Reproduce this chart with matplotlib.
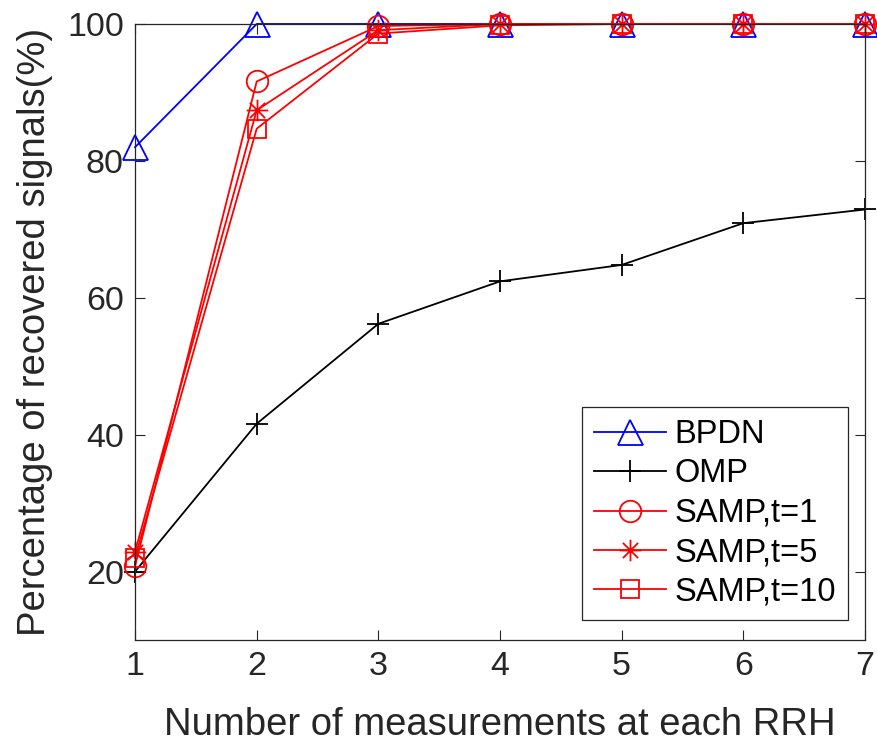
import matplotlib
matplotlib.use("Agg")
import matplotlib.pyplot as plt
from matplotlib.path import Path
import numpy as np

x = [1, 2, 3, 4, 5, 6, 7]
bpdn = [82.0, 100, 100, 100, 100, 100, 100]
omp = [20.0, 41.6, 56.2, 62.4, 64.8, 70.9, 72.9]
samp_t1 = [20.8, 91.6, 99.7, 100, 100, 100, 100]
samp_t5 = [22.9, 87.4, 99.1, 100, 100, 100, 100]
samp_t10 = [22.0, 84.7, 98.6, 99.8, 100, 100, 100]

xticks = [1, 2, 3, 4, 5, 6, 7]
yticks = [20, 40, 60, 80, 100]

plt.rcParams['font.family'] = ['Liberation Sans', 'DejaVu Sans']

# MATLAB-like asterisk marker (plus + cross)
d = 0.7071
verts = [(0, -1), (0, 1), (-1, 0), (1, 0), (-d, -d), (d, d), (-d, d), (d, -d)]
codes = [Path.MOVETO, Path.LINETO] * 4
asterisk = Path(verts, codes)

fig = plt.figure(figsize=(8.78, 7.47), dpi=100)
ax = fig.add_axes([0.1538, 0.1432, 0.8314, 0.8247])

lw = 1.3
common = dict(linewidth=lw, markeredgewidth=lw, markerfacecolor='none', clip_on=False)
ax.plot(x, bpdn, color='#0000ff', marker='^', markersize=18, label='BPDN', **common)
ax.plot(x, omp, color='#000000', marker='+', markersize=16, label='OMP', **common)
ax.plot(x, samp_t1, color='#ff0000', marker='o', markersize=15.5, label='SAMP,t=1', **common)
ax.plot(x, samp_t5, color='#ff0000', marker=asterisk, markersize=15.5, label='SAMP,t=5', **common)
ax.plot(x, samp_t10, color='#ff0000', marker='s', markersize=13, label='SAMP,t=10', **common)

ax.set_xlim(1, 7)
ax.set_ylim(10, 100)
ax.set_xticks(xticks)
ax.set_yticks(yticks)
ax.tick_params(direction='in', length=7, width=0.8, colors='#262626', labelsize=24.5,
               top=True, right=True, pad=8)
for s in ax.spines.values():
    s.set_color('#262626')
    s.set_linewidth(0.9)

ax.set_xlabel('Number of measurements at each RRH', fontsize=27.5, color='#262626', labelpad=18)
ax.set_ylabel('Percentage of recovered signals(%)', fontsize=27.5, color='#262626', labelpad=10)

leg = ax.legend(loc='lower right', bbox_to_anchor=(0.977, 0.032), fontsize=23.5,
                frameon=True, fancybox=False, framealpha=1, edgecolor='#262626',
                handlelength=2.2, handletextpad=0.25, labelspacing=0.26, borderpad=0.38,
                borderaxespad=0)
leg.get_frame().set_linewidth(0.9)

fig.savefig('out.png', dpi=100)
